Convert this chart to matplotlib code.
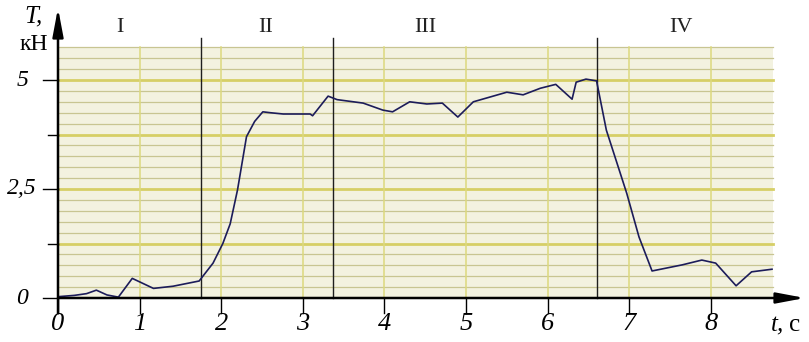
import matplotlib.pyplot as plt
import numpy as np

# curve T(t)
t_vals = [0.0, 0.2, 0.35, 0.47, 0.6, 0.74, 0.91, 1.17, 1.41, 1.73, 1.9, 2.02,
          2.11, 2.2, 2.31, 2.41, 2.51, 2.6, 2.76, 3.09, 3.12, 3.31, 3.42, 3.74,
          3.98, 4.1, 4.31, 4.52, 4.71, 4.9, 5.09, 5.5, 5.7, 5.91, 6.1, 6.3,
          6.35, 6.47, 6.6, 6.72, 6.97, 7.12, 7.28, 7.65, 7.89, 8.06, 8.31,
          8.5, 8.75]
T_vals = [0.03, 0.06, 0.1, 0.18, 0.07, 0.02, 0.45, 0.22, 0.27, 0.39, 0.8, 1.25,
          1.7, 2.48, 3.7, 4.05, 4.27, 4.25, 4.22, 4.22, 4.18, 4.63, 4.55, 4.47,
          4.31, 4.27, 4.5, 4.45, 4.47, 4.15, 4.5, 4.72, 4.66, 4.81, 4.9, 4.56,
          4.95, 5.02, 4.98, 3.85, 2.4, 1.4, 0.62, 0.76, 0.87, 0.8, 0.28,
          0.6, 0.66]

# stage boundaries and stage names
stage_bounds = [1.75, 3.37, 6.6]
stage_names = ["I", "II", "III", "IV"]
stage_label_x = [0.76, 2.54, 4.5, 7.63]

x_ticks = [0, 1, 2, 3, 4, 5, 6, 7, 8]
y_ticks = [0, 1.25, 2.5, 3.75, 5]
y_tick_labels = {0: "0", 2.5: "2,5", 5: "5"}

grid_right = 8.76
grid_top = 5.75

# pixel mapping of the original picture
X0, SX = 58, 81.6
Y0, SY = 298, 43.6
W, H = 809, 342

serif = "Liberation Serif"

fig = plt.figure(figsize=(W / 100, H / 100), dpi=100)
ax = fig.add_axes([0, 0, 1, 1])
ax.set_xlim(-X0 / SX, (W - X0) / SX)
ax.set_ylim((Y0 - H) / SY, Y0 / SY)
ax.axis("off")

# paper background
ax.add_patch(plt.Rectangle((0, 0), grid_right, grid_top,
                           facecolor="#f3f2e0", edgecolor="none", zorder=0))

# horizontal grid
for y in np.arange(0.25, grid_top + 0.01, 0.25):
    major = abs(y / 1.25 - round(y / 1.25)) < 1e-6
    ax.plot([0, grid_right], [y, y],
            color="#d6cf66" if major else "#c8c592",
            lw=2.0 if major else 0.9, zorder=1)

# vertical grid
for x in x_ticks[1:]:
    ax.plot([x, x], [0, grid_top], color="#dcd97e", lw=1.1, zorder=1)

# stage boundaries
for xb in stage_bounds:
    ax.plot([xb, xb], [0, 5.96], color="#1e1e1e", lw=1.0, zorder=3)
for xl, name in zip(stage_label_x, stage_names):
    ax.text(xl, 6.2, name, ha="center", va="center", fontsize=16,
            family=serif, color="#222222")

# curve
ax.plot(t_vals, T_vals, color="#1c1c5a", lw=1.2, zorder=4)

# axes with arrows
arr = dict(arrowstyle="-|>,head_length=1.7,head_width=0.32",
           mutation_scale=10, color="black", lw=1.8, shrinkA=0, shrinkB=0)
ax.annotate("", xy=((805 - X0) / SX, 0), xytext=(0, 0), arrowprops=arr, zorder=5)
ax.annotate("", xy=(0, (Y0 - 8) / SY), xytext=(0, -0.35), arrowprops=arr, zorder=5)

# x ticks
for x in x_ticks:
    ax.plot([x, x], [0, -0.34], color="black", lw=1.0, zorder=5)
    ax.text(x, -0.6, str(x), ha="center", va="center", fontsize=19,
            family=serif, style="italic")

# y ticks
for y in y_ticks:
    length = 15 if y in y_tick_labels else 10
    ax.plot([-length / SX, 0], [y, y], color="black", lw=1.0, zorder=5)
    if y in y_tick_labels:
        ax.text(-0.44, y, y_tick_labels[y], ha="center", va="center",
                fontsize=17, family=serif, style="italic")

# axis titles
ax.text((24 - X0) / SX, (Y0 - 16) / SY, "T,", ha="left", va="center",
        fontsize=18, family=serif, style="italic")
ax.text((34 - X0) / SX, (Y0 - 45) / SY, "кН", ha="center", va="center",
        fontsize=17, family=serif)
ax.text((771 - X0) / SX, (Y0 - 325) / SY, "t,", ha="left", va="center",
        fontsize=18, family=serif, style="italic")
ax.text((789 - X0) / SX, (Y0 - 325) / SY, "с", ha="left", va="center",
        fontsize=18, family=serif)

fig.savefig("out.png", dpi=100, facecolor="white")
